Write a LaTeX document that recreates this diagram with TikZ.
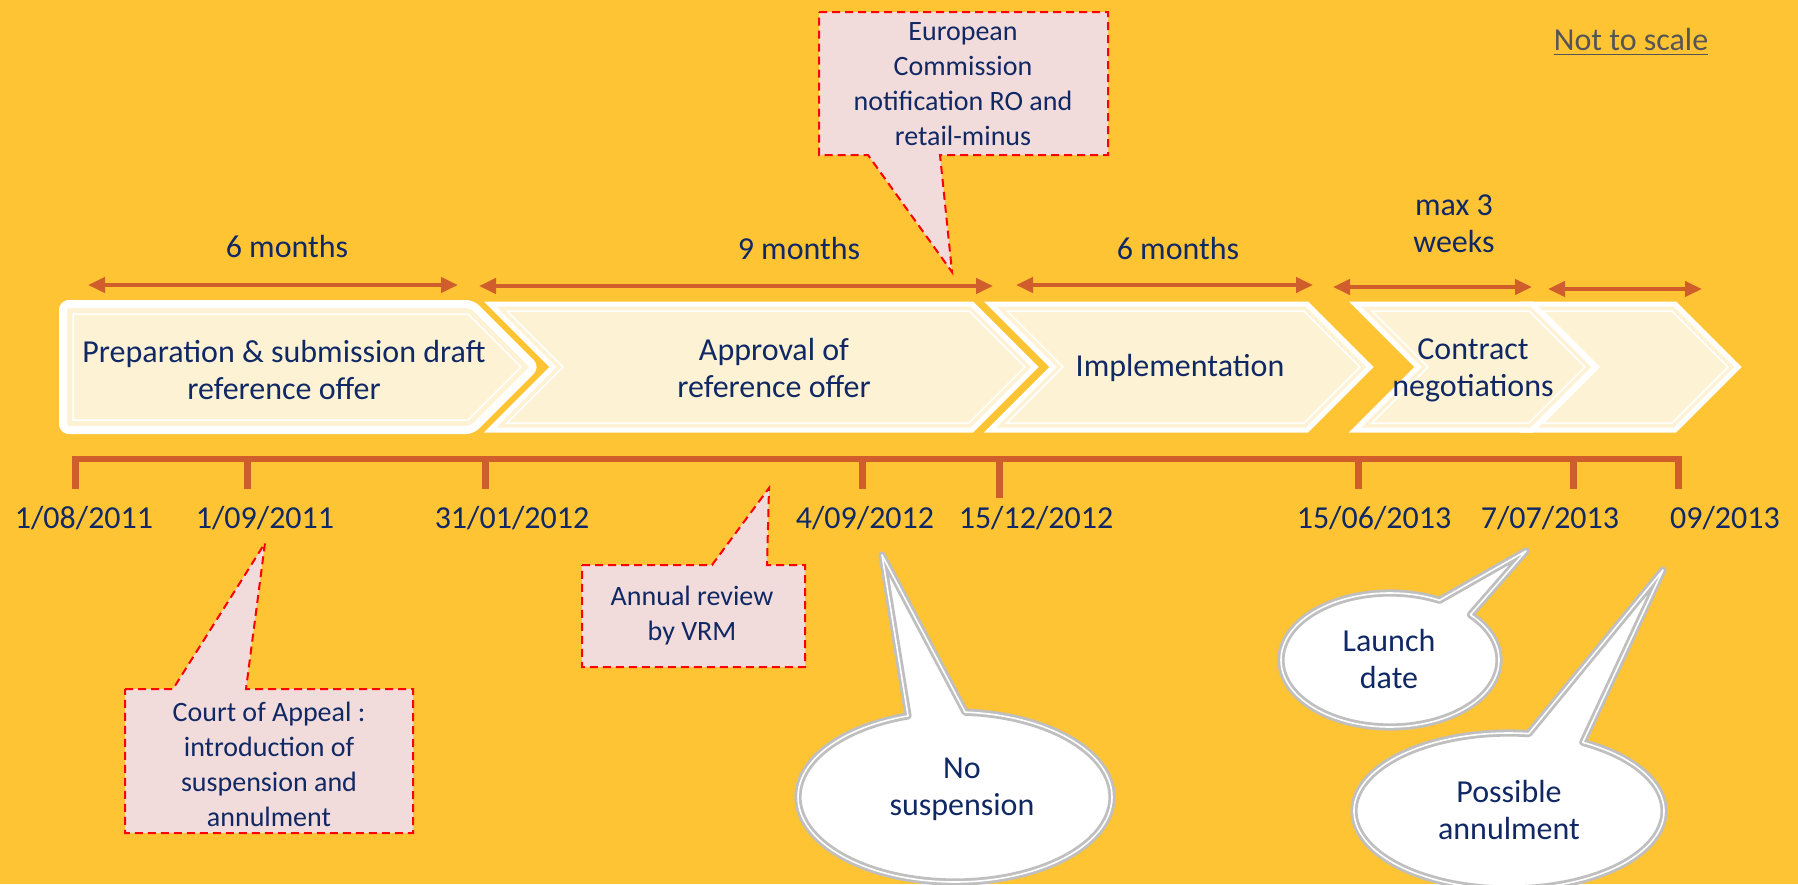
\documentclass[tikz,border=0pt]{standalone}
\usepackage{fontspec}
\setmainfont{Carlito}
\usepackage{xcolor}
\usepackage{tikz}
\usetikzlibrary{arrows.meta}
\usetikzlibrary{calc}
\definecolor{bgyellow}{RGB}{255,196,51}
\definecolor{cream}{RGB}{253,242,212}
\definecolor{navy}{RGB}{16,40,100}
\definecolor{rust}{RGB}{208,94,45}
\definecolor{notepink}{RGB}{242,220,219}
\definecolor{bubblegrey}{RGB}{191,191,191}
\definecolor{scalegrey}{RGB}{85,85,85}
\tikzset{%
  phase/.style={
    fill=cream,
    draw=white,
    line width=2.5pt,
    line join=miter
  },
  phase inner/.style={draw=white, line width=0.75pt},
  period/.style={
    rust,
    line width=2pt,
    {Triangle[length=8.5pt,width=7.5pt]}-{Triangle[length=8.5pt,width=7.5pt]}
  },
  timeline/.style={rust, line width=3.2pt},
  datetick/.style={rust, line width=3.5pt},
  note/.style={
    fill=notepink,
    draw=red,
    line width=1pt,
    dash pattern=on 4pt off 2.5pt
  },
  bubble/.style={
    fill=white,
    draw=bubblegrey,
    line width=1.4pt,
    double=white,
    double distance=0.8pt,
    line join=round
  },
  txt/.style={text=navy, align=center, font=\fontsize{16}{18.5}\selectfont},
  notetxt/.style={text=navy, align=center, font=\fontsize{14}{17.5}\selectfont},
}

\begin{document}
\begin{tikzpicture}[x=0.5pt,y=-0.5pt]
  \useasboundingbox (0,0) rectangle (1798,884);
  \fill[bgyellow] (0,0) rectangle (1798,884);

  % phases
  \draw[phase, line width=4pt, rounded corners=3pt] (63,304) -- (472,304)
    -- (535,367) -- (472,430) -- (63,430) -- cycle;
  \draw[phase inner] (73,314) -- (468,314) -- (521,367) -- (468,420)
    -- (73,420) -- cycle;
  \foreach \l/\s in {490/972, 990/1307, 1526/1675, 1355/1532} {
    \draw[phase] (\l,304) -- (\s,304) -- ({\s+63},367) -- (\s,430)
      -- (\l,430) -- ({\l+63},367) -- cycle;
    \draw[phase inner] ({\l+17},311) -- ({\s-3},311) -- ({\s+53},367)
      -- ({\s-3},423) -- ({\l+17},423) -- ({\l+73},367) -- cycle;
  }

  \node (prep) [txt] at (284,370) {Preparation \& submission draft\\reference offer};
  \node (appr) [txt] at (774,368) {Approval of\\reference offer};
  \node (impl) [txt] at (1180,368) {Implementation};
  \node (contr) [txt] at (1473,370) {Contract\\negotiations};

  % durations
  \draw[period] (88,285) -- (458,285);
  \draw[period] (479,286) -- (993,286);
  \draw[period] (1016,285) -- (1313,285);
  \draw[period] (1333,287) -- (1532,287);
  \draw[period] (1548,289) -- (1702,289);

  \node (m1) [txt] at (287,247) {6 months};
  \node (m2) [txt] at (799,249) {9 months};
  \node (m3) [txt] at (1178,249) {6 months};
  \node (w1) [txt] at (1454,224) {max 3\\weeks};

  % time axis
  \draw[timeline] (72,459) -- (1682,459);
  \foreach \x in {75,247,485,862,1358,1573,1678}
    \draw[datetick] (\x,459) -- (\x,489);
  \draw[datetick] (999,459) -- (999,498);

  \node (d1) [txt] at (84,518) {1/08/2011};
  \node (d2) [txt] at (265,518) {1/09/2011};
  \node (d3) [txt] at (512,518) {31/01/2012};
  \node (d4) [txt] at (865,518) {4/09/2012};
  \node (d5) [txt] at (1036,518) {15/12/2012};
  \node (d6) [txt] at (1374,518) {15/06/2013};
  \node (d7) [txt] at (1550,518) {7/07/2013};
  \node (d8) [txt] at (1725,518) {09/2013};

  % callouts
  \draw[note] (819,12) -- (1108,12) -- (1108,155) -- (940,155) -- (952,272)
    -- (868,155) -- (819,155) -- cycle;
  \node (ec) [notetxt] at (963,84) {European\\Commission\\notification RO and\\retail-minus};

  \draw[note] (582,565) -- (712,565) -- (769,488) -- (767,565) -- (805,565)
    -- (805,667) -- (582,667) -- cycle;
  \node (vrm) [notetxt] at (692,616) {Annual review\\by VRM};

  \draw[note] (125,689) -- (173,689) -- (265,543) -- (246,689) -- (413,689)
    -- (413,833) -- (125,833) -- cycle;
  \node (coa) [notetxt] at (269,764) {Court of Appeal :\\introduction of\\suspension and\\annulment};

  % bubbles
  \draw[bubble] (882,555) -- ($(955,797)+(273.7:157 and 85)$)
    arc[start angle=273.7, end angle=612.6, x radius=157, y radius=85] -- cycle;
  \node (nosusp) [txt] at (962,789) {No\\suspension};

  \draw[bubble] (1526,551) -- ($(1390,660)+(317.5:109 and 67)$)
    arc[start angle=317.5, end angle=657, x radius=109, y radius=67] -- cycle;
  \node (launch) [txt] at (1389,659) {Launch\\date};

  \draw[bubble] (1663,570) -- ($(1509,811)+(298.4:155 and 78)$)
    arc[start angle=298.4, end angle=637.3, x radius=155, y radius=78] -- cycle;
  \node (annul) [txt] at (1509,810) {Possible\\annulment};

  \node (nts) [text=scalegrey, font=\fontsize{16}{18.5}\selectfont] at (1631,42)
    {\underline{Not to scale}};
\end{tikzpicture}
\end{document}
